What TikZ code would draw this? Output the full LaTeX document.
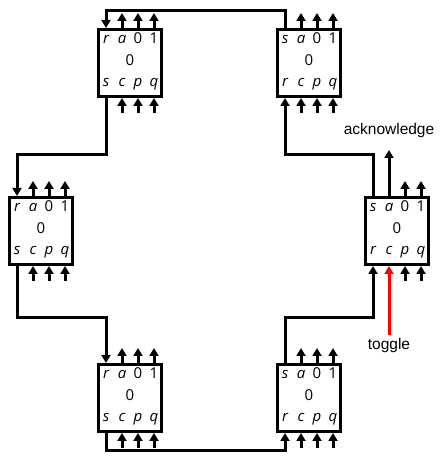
\documentclass[tikz,border=0pt]{standalone}
\usepackage{fontspec}
\setmainfont{Liberation Sans}
\newfontfamily\cellfont{Open Sans}
\usetikzlibrary{arrows.meta,calc,positioning}

\newcommand{\ringcell}[4]{%
  \node[cell] (#1) at (#2) {};
  \foreach \i/\dx in {1/-24,2/-8,3/8,4/24} {
    \coordinate (#1-t\i) at ($(#1.north)+(\dx,0)$);
    \coordinate (#1-b\i) at ($(#1.south)+(\dx,0)$);
    \coordinate (#1-T\i) at ($(#1.north)+(\dx,15)$);
    \coordinate (#1-B\i) at ($(#1.south)+(\dx,-15)$);
  }
  \node[sym] (#1-top1) at ($(#1)+(-24,22)$) {\itshape #3};
  \node[sym] (#1-top2) at ($(#1)+(-8,22)$)  {\itshape a};
  \node[sym] (#1-top3) at ($(#1)+(8,22)$)   {0};
  \node[sym] (#1-top4) at ($(#1)+(24,22)$)  {1};
  \node[sym] (#1-mid)  at (#1)               {0};
  \node[sym] (#1-bot1) at ($(#1)+(-24,-21)$) {\itshape #4};
  \node[sym] (#1-bot2) at ($(#1)+(-8,-21)$)  {\itshape c};
  \node[sym] (#1-bot3) at ($(#1)+(8,-21)$)   {\itshape p};
  \node[sym] (#1-bot4) at ($(#1)+(24,-21)$)  {\itshape q};
}

\begin{document}
\begin{tikzpicture}[x=1pt, y=1pt,
  every node/.style={inner sep=0pt},
  cell/.style={draw, line width=3pt, minimum width=63pt, minimum height=67pt},
  sym/.style={font=\cellfont\fontsize{15}{15}\selectfont, anchor=mid},
  pin/.style={-{Triangle[width=9pt,length=8pt]}, line width=3pt},
  tag/.style={font=\fontsize{15.5}{15.5}\selectfont},
]
\useasboundingbox (0,0) rectangle (439,465);
\ringcell{tl}{130,402}{r}{s}
\ringcell{tr}{309,402}{s}{r}
\ringcell{ml}{41,234}{r}{s}
\ringcell{mr}{397,234}{s}{r}
\ringcell{bl}{130,67}{r}{s}
\ringcell{br}{309,67}{s}{r}
\foreach \c in {tl,tr,ml,bl,br}
  \foreach \i in {2,3,4} {
    \draw[pin] (\c-t\i) -- (\c-T\i);
    \draw[pin] (\c-B\i) -- (\c-b\i);
  }
\foreach \i in {3,4} {
  \draw[pin] (mr-t\i) -- (mr-T\i);
  \draw[pin] (mr-B\i) -- (mr-b\i);
}
\draw[pin] (tr-t1) -- ++(0,17) -| (tl-t1);
\draw[pin] (tl-b1) -- ++(0,-57) -| (ml-t1);
\draw[pin] (ml-b1) -- ++(0,-52) -| (bl-t1);
\draw[pin] (bl-b1) -- ++(0,-18) -| (br-b1);
\draw[pin] (br-t1) -- ++(0,45) -| (mr-b1);
\draw[pin] (mr-t1) -- ++(0,41) -| (tr-b1);
\coordinate (ackend) at ($(mr-t2)+(0,46)$);
\node[tag, above=12pt of ackend] (ack) {acknowledge};
\draw[pin] (mr-t2) -- (ackend);
\coordinate (togstart) at ($(mr-b2)+(0,-69)$);
\node[tag, below=3pt of togstart] (tog) {toggle};
\draw[pin, red] (togstart) -- (mr-b2);
\end{tikzpicture}
\end{document}
